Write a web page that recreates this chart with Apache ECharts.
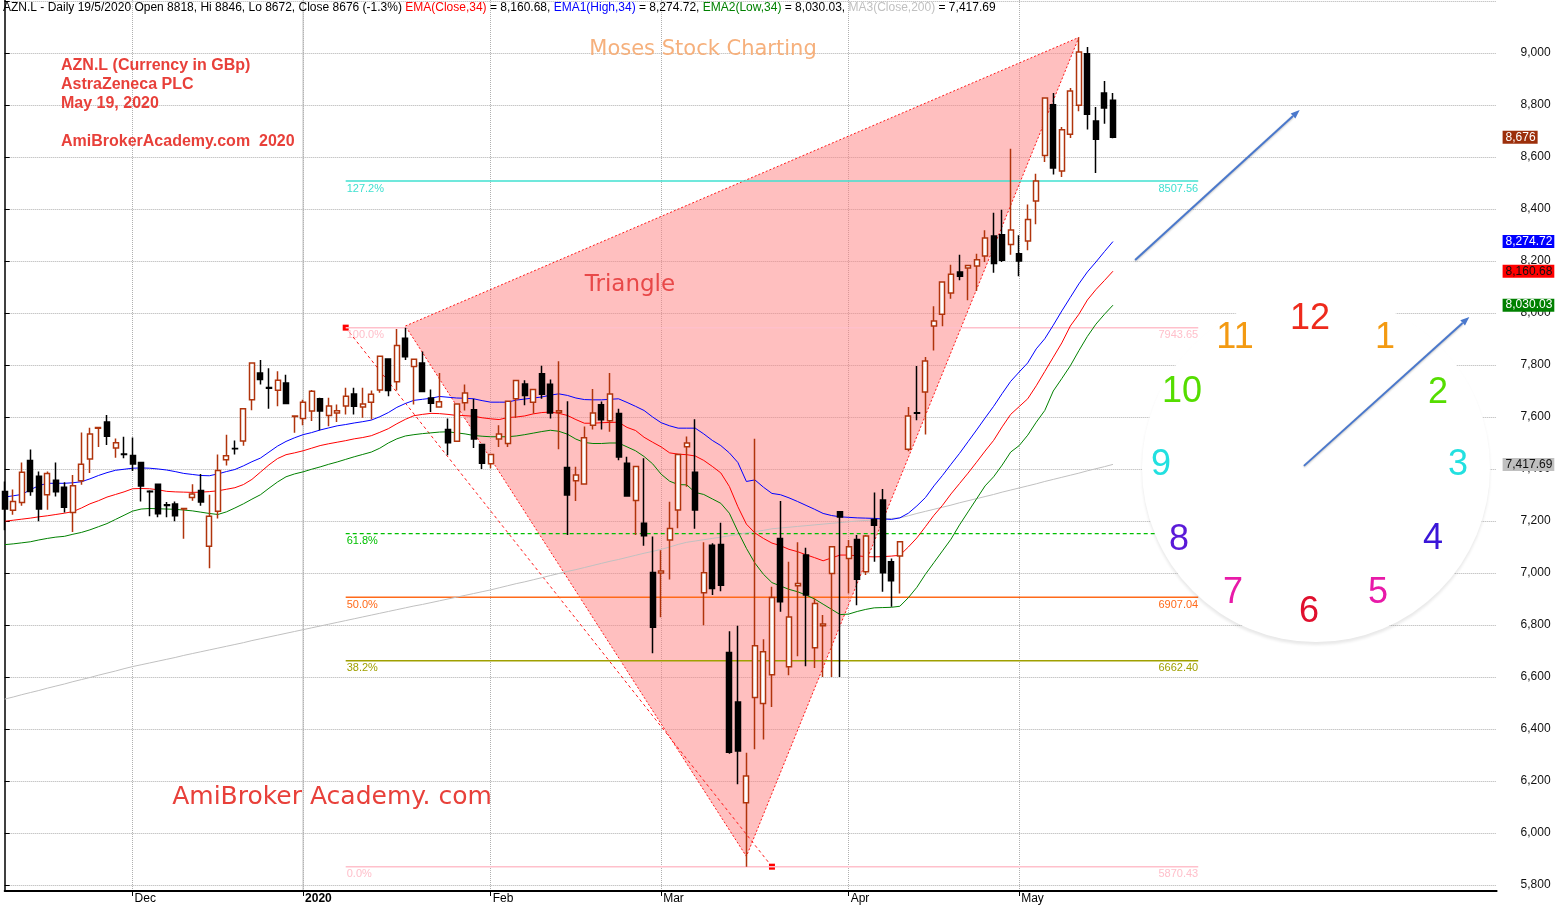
<!DOCTYPE html>
<html><head><meta charset="utf-8">
<script src="https://cdn.jsdelivr.net/npm/echarts@6/dist/echarts.min.js"></script>
<style>html,body{margin:0;padding:0;background:#fff}#c{width:1559px;height:908px}</style>
</head><body><div id="c"></div>
<script>
// ---------------- data ----------------
const dates = [
'2019-11-11','2019-11-12','2019-11-13','2019-11-14','2019-11-15','2019-11-18','2019-11-19','2019-11-20','2019-11-21','2019-11-22','2019-11-25','2019-11-26','2019-11-27','2019-11-28','2019-11-29',
'2019-12-02','2019-12-03','2019-12-04','2019-12-05','2019-12-06','2019-12-09','2019-12-10','2019-12-11','2019-12-12','2019-12-13','2019-12-16','2019-12-17','2019-12-18','2019-12-19','2019-12-20','2019-12-23','2019-12-24','2019-12-27','2019-12-30','2019-12-31',
'2020-01-02','2020-01-03','2020-01-06','2020-01-07','2020-01-08','2020-01-09','2020-01-10','2020-01-13','2020-01-14','2020-01-15','2020-01-16','2020-01-17','2020-01-20','2020-01-21','2020-01-22','2020-01-23','2020-01-24','2020-01-27','2020-01-28','2020-01-29','2020-01-30','2020-01-31',
'2020-02-03','2020-02-04','2020-02-05','2020-02-06','2020-02-07','2020-02-10','2020-02-11','2020-02-12','2020-02-13','2020-02-14','2020-02-17','2020-02-18','2020-02-19','2020-02-20','2020-02-21','2020-02-24','2020-02-25','2020-02-26','2020-02-27','2020-02-28',
'2020-03-02','2020-03-03','2020-03-04','2020-03-05','2020-03-06','2020-03-09','2020-03-10','2020-03-11','2020-03-12','2020-03-13','2020-03-16','2020-03-17','2020-03-18','2020-03-19','2020-03-20','2020-03-23','2020-03-24','2020-03-25','2020-03-26','2020-03-27','2020-03-30','2020-03-31',
'2020-04-01','2020-04-02','2020-04-03','2020-04-06','2020-04-07','2020-04-08','2020-04-09','2020-04-14','2020-04-15','2020-04-16','2020-04-17','2020-04-20','2020-04-21','2020-04-22','2020-04-23','2020-04-24','2020-04-27','2020-04-28','2020-04-29','2020-04-30',
'2020-05-01','2020-05-04','2020-05-05','2020-05-06','2020-05-07','2020-05-11','2020-05-12','2020-05-13','2020-05-14','2020-05-15','2020-05-18','2020-05-19'];

const opens = [7313,7241,7271,7433,7372,7301,7357,7330,7233,7355,
7438,7557,7581,7481,7458,7452,7425,7314,7341,7262,
7265,7246,7290,7317,7103,7237,7436,7479,7508,7666,
7769,7713,7703,7731,7602,7594,7623,7670,7606,7615,
7642,7688,7638,7657,7704,7823,7736,7903,7794,7808,
7673,7638,7552,7507,7655,7628,7494,7420,7515,7498,
7670,7727,7657,7766,7726,7617,7406,7355,7342,7568,
7647,7586,7613,7422,7279,7191,7002,7000,7127,7242,
7486,7387,6924,7107,7110,6694,6504,6116,6521,6498,
6609,7133,6639,6951,7069,6712,6797,6998,7236,7056,
7129,7005,7206,7281,7043,7065,7476,7616,7696,7950,
7995,8077,8158,8173,8181,8219,8296,8301,8263,8228,
8277,8431,8606,8801,8546,8687,8799,8997,8738,8846,
8818];
const closes = [7246,7275,7387,7313,7246,7383,7312,7253,7336,7418,
7535,7560,7526,7501,7456,7419,7335,7312,7228,7260,
7220,7248,7304,7273,7218,7394,7451,7478,7632,7808,
7744,7711,7741,7652,7604,7657,7699,7623,7642,7624,
7680,7641,7650,7687,7834,7702,7875,7832,7822,7698,
7653,7659,7501,7650,7692,7515,7422,7456,7535,7661,
7740,7683,7706,7687,7615,7624,7300,7377,7520,7615,
7589,7688,7446,7296,7410,7143,6791,7008,7171,7456,
7500,7242,7001,6940,6953,6311,6315,6219,6720,6697,
6906,6889,6831,6960,6915,6883,6804,7101,7215,7101,
6976,7142,7184,7001,6970,7120,7604,7614,7815,7969,
8119,8149,8141,8183,8205,8288,8190,8203,8319,8200,
8360,8508,8827,8558,8705,8854,9004,8764,8668,8788,
8676];
const lows = [7164,7224,7259,7297,7199,7243,7294,7233,7158,7339,
7385,7485,7492,7443,7441,7392,7275,7218,7214,7214,
7199,7132,7278,7259,7018,7210,7413,7456,7489,7626,
7725,7632,7641,7650,7539,7568,7585,7549,7564,7581,
7610,7610,7597,7590,7693,7680,7702,7819,7648,7695,
7619,7637,7453,7504,7625,7481,7400,7403,7485,7485,
7596,7645,7613,7670,7594,7476,7146,7277,7340,7552,
7552,7543,7434,7293,7146,7105,6691,6830,6975,7172,
7332,7170,6799,6915,6930,6305,6187,5870.43,6322,6360,
6485,6851,6607,6680,6641,6635,6600,6600,6600,6921,
6876,6992,7043,6928,6870,6921,7468,7587,7533,7856,
7949,8055,8126,8049,8085,8196,8155,8196,8224,8141,
8241,8341,8581,8533,8523,8673,8776,8706,8538,8728,
8672];
const highs = [7352,7321,7425,7475,7390,7390,7425,7349,7377,7540,
7559,7562,7608,7517,7524,7521,7428,7318,7343,7273,
7275,7249,7341,7381,7301,7456,7532,7510,7634,7810,
7819,7787,7776,7762,7605,7666,7704,7674,7674,7648,
7712,7712,7712,7702,7836,7825,7938,7943.65,7824,7852,
7706,7769,7594,7651,7725,7670,7496,7457,7568,7662,
7743,7741,7707,7797,7744,7814,7661,7409,7563,7708,
7660,7769,7632,7447,7411,7441,7140,7087,7274,7457,
7525,7591,7118,7114,7193,6776,6797,6309,7516,6745,
6947,7277,7043,7118,7097,6902,6838,7102,7238,7127,
7146,7146,7310,7323,7056,7121,7638,7796,7831,8026,
8120,8186,8224,8184,8228,8318,8386,8397,8632,8299,
8417,8536,8828,8846,8715,8865,9060,9023,8792,8892,
8846];

const emaHigh = [7292,7297,7302,7320,7336,7345,7345,7345,7347,7351,
7362,7375,7386,7395,7399,7403,7404,7403,7400,7396,
7390,7383,7379,7375,7374,7381,7390,7398,7412,7428,
7442,7465,7488,7506,7520,7532,7540,7550,7558,7566,
7571,7577,7582,7588,7601,7617,7637,7652,7664,7668,
7672,7679,7676,7673,7672,7670,7663,7657,7657,7657,
7665,7669,7673,7677,7684,7689,7683,7673,7667,7666,
7666,7668,7670,7656,7641,7625,7600,7578,7566,7557,
7557,7557,7535,7510,7490,7462,7425,7352,7358,7330,
7306,7301,7289,7275,7260,7245,7229,7221,7216,7214,
7212,7211,7210,7208,7206,7212,7230,7258,7290,7335,
7375,7418,7460,7505,7550,7596,7641,7690,7737,7773,
7808,7862,7901,7953,8008,8060,8112,8158,8196,8236,
8274.72];
const emaClose = [7199,7203,7207,7211,7216,7220,7225,7230,7236,7250,
7266,7278,7292,7302,7312,7324,7325,7324,7320,7314,
7312,7311,7310,7311,7313,7316,7322,7328,7340,7360,
7388,7416,7440,7455,7462,7470,7480,7490,7497,7503,
7509,7516,7521,7528,7541,7555,7574,7591,7605,7610,
7614,7613,7610,7606,7605,7603,7597,7593,7590,7598,
7600,7604,7612,7617,7619,7614,7606,7590,7576,7576,
7578,7579,7580,7560,7548,7522,7503,7485,7462,7457,
7455,7450,7433,7410,7385,7333,7255,7188,7154,7133,
7115,7105,7091,7082,7070,7059,7047,7058,7069,7069,
7066,7063,7062,7063,7065,7068,7100,7135,7178,7222,
7260,7304,7344,7384,7426,7469,7510,7562,7610,7640,
7670,7720,7775,7830,7885,7950,7995,8050,8090,8125,
8160.68];
const emaLow = [7109,7112,7116,7120,7127,7133,7138,7141,7149,7156,
7166,7178,7190,7206,7222,7238,7246,7248,7247,7246,
7245,7242,7239,7234,7229,7225,7235,7250,7266,7284,
7301,7326,7350,7370,7381,7389,7399,7408,7418,7427,
7437,7447,7456,7465,7480,7500,7516,7527,7532,7536,
7539,7542,7543,7539,7535,7529,7526,7524,7524,7524,
7527,7532,7538,7544,7549,7545,7534,7515,7502,7498,
7498,7500,7500,7485,7470,7448,7420,7380,7353,7340,
7339,7310,7302,7285,7268,7230,7160,7095,7038,6995,
6963,6950,6937,6928,6915,6900,6880,6860,6840,6842,
6852,6860,6866,6867,6868,6872,6905,6945,6995,7040,
7085,7130,7185,7235,7285,7335,7370,7415,7465,7490,
7530,7580,7625,7700,7748,7797,7855,7910,7957,7995,
8030.03];
const ma200 = [6515,6523,6532,6540,6548,6557,6565,6573,6582,6590,
6598,6607,6615,6623,6632,6640,6647,6654,6661,6668,
6675,6683,6690,6697,6704,6711,6718,6725,6732,6740,
6747,6754,6761,6768,6775,6782,6789,6796,6803,6810,
6817,6824,6831,6838,6845,6852,6859,6866,6873,6879,
6886,6893,6900,6907,6914,6921,6928,6935,6943,6951,
6959,6966,6974,6982,6990,6998,7006,7013,7021,7029,
7037,7045,7052,7060,7068,7076,7083,7091,7100,7110,
7118,7123,7128,7133,7138,7143,7148,7154,7159,7164,
7170,7173,7176,7179,7182,7185,7188,7191,7194,7197,
7200,7202,7205,7207,7210,7212,7220,7229,7237,7245,
7253,7261,7270,7278,7286,7294,7302,7311,7319,7327,
7335,7343,7352,7360,7368,7376,7384,7393,7401,7409,
7417.69];

const futureSlots = 45;                     // empty bars to the right of the last candle
const fibLevels = [8507.56, 7943.65, 7151.68, 6907.04, 6662.40, 5870.43];
const fibLabels = ['127.2%', '100.0%', '61.8%', '50.0%', '38.2%', '0.0%'];
const fibSpan = [40, 140];                   // bar index range of the fib tool
const fibAnchor = [[40, 7943.65], [90, 5870.43]];
const triangle = [[47, 7950], [126, 9060], [87, 5910]];
const arrows = [[132.6, 8204, 151.9, 8781], [152.4, 7412, 171.8, 7985]];
const yearStartBar = 35;

// ---------------- styles ----------------
const FF = '"Liberation Sans", Arial, Helvetica, sans-serif';
const fibColors = ['#40e0d0', '#ffc0cb', '#00c000', '#ff6a1a', '#a0a000', '#ffc0cb'];
const fibWidths = [1.5, 1.5, 1.2, 1.5, 1.5, 1.5];
const fibDash = [null, null, [4, 3], null, null, null];

const n = dates.length;
const N = n + futureSlots;
const cats = dates.concat(Array.from({length: futureSlots}, (_, k) => 'slot' + k));
const monthStart = new Set();
dates.forEach((d, i) => { if (i > 0 && d.slice(5, 7) !== dates[i - 1].slice(5, 7)) monthStart.add(i); });
const monNames = ['Jan','Feb','Mar','Apr','May','Jun','Jul','Aug','Sep','Oct','Nov','Dec'];
const isTick = (i) => monthStart.has(i);
const fmt2 = v => v.toLocaleString('en-US', {minimumFractionDigits: 2, maximumFractionDigits: 2});
const fmt0 = v => v.toLocaleString('en-US');

const last = n - 1;
const pct = ((closes[last] - closes[last - 1]) / closes[last - 1] * 100).toFixed(1);
const ld = dates[last].split('-');
const headerText =
  `{k|AZN.L - Daily ${+ld[2]}/${+ld[1]}/${ld[0]} Open ${opens[last]}, Hi ${highs[last]}, Lo ${lows[last]}, Close ${closes[last]} (${pct}%) }` +
  `{r|EMA(Close,34)}{k| = ${fmt2(emaClose[last])}, }{b|EMA1(High,34)}{k| = ${fmt2(emaHigh[last])}, }` +
  `{g|EMA2(Low,34)}{k| = ${fmt2(emaLow[last])}, }{m|MA3(Close,200)}{k| = ${fmt2(ma200[last])}}`;

function badge(value, bg, fg, text) {
  return {
    symbol: 'none', silent: true, animation: false,
    lineStyle: {color: 'rgba(0,0,0,0)', width: 0},
    label: {show: true, position: 'end', distance: 6, formatter: text,
      backgroundColor: bg, color: fg, fontFamily: FF, fontSize: 12, padding: [1, 2, 0, 3]},
    data: [{yAxis: value}]
  };
}

const clockNums = [
  ['12', 1310, 319, '#ee2a1c'], ['1', 1385, 338, '#f39a12'], ['2', 1438, 393, '#55dd00'],
  ['3', 1458, 465, '#22e0e0'], ['4', 1433, 539, '#3a16d8'], ['5', 1378, 593, '#e81aa8'],
  ['6', 1309, 612, '#e0102e'], ['7', 1233, 593, '#e81aa8'], ['8', 1179, 540, '#5a1ad8'],
  ['9', 1161, 465, '#22e0e0'], ['10', 1182, 392, '#55dd00'], ['11', 1235, 338, '#f39a12']
];

function txt(x, y, text, fill, font, align, valign, z) {
  return {type: 'text', x, y, z: z || 40, silent: true,
    style: {text, fill, font, align: align || 'left', verticalAlign: valign || 'middle',
      textAlign: align || 'left', textVerticalAlign: valign || 'middle'}};
}

const option = {
  animation: false,
  backgroundColor: '#ffffff',
  grid: {left: 4.7, right: 62.4, top: 0, bottom: 17, containLabel: false},
  xAxis: [{
    type: 'category', data: cats, boundaryGap: false,
    axisLine: {show: true, lineStyle: {color: '#000', width: 2}},
    axisTick: {show: true, interval: (i) => isTick(i), length: 5, lineStyle: {color: '#000'}},
    axisLabel: {interval: (i) => isTick(i), align: 'left', margin: 2, padding: [0, 0, 0, 2],
      color: '#000', fontFamily: FF, fontSize: 12,
      formatter: (v) => {
        if (v.startsWith('slot')) return '';
        const m = +v.slice(5, 7);
        return m === 1 ? '{y|' + v.slice(0, 4) + '}' : monNames[m - 1];
      },
      rich: {y: {fontWeight: 'bold', fontFamily: FF, fontSize: 12, color: '#000'}}},
    splitLine: {show: true, interval: (i) => isTick(i), lineStyle: {color: '#b0b0b0', type: 'dotted', width: 1}}
  }, {
    type: 'value', min: 0, max: N - 1, show: false
  }],
  yAxis: [{
    type: 'value', position: 'right', min: 5776.9, max: 9203.8,
    minInterval: 200, maxInterval: 200, splitNumber: 17,
    axisLine: {show: true, lineStyle: {color: '#000', width: 1.5}},
    axisTick: {show: true, length: 5, lineStyle: {color: '#000'}},
    axisLabel: {margin: 24, color: '#111', fontFamily: FF, fontSize: 12,
      showMinLabel: false, showMaxLabel: false,
      formatter: (v) => (Math.abs(v % 200) < 1e-6 && v < 9100) ? fmt0(v) : ''},
    splitLine: {show: true, showMinLine: false, showMaxLine: false,
      lineStyle: {color: '#b0b0b0', type: 'dotted', width: 1}}
  }],
  series: [
    { // year boundary solid gridline
      type: 'custom', xAxisIndex: 1, yAxisIndex: 0, z: 0, silent: true,
      data: [[yearStartBar, 7000]],
      renderItem: (params, api) => {
        const p = api.coord([api.value(0), api.value(1)]);
        const cs = params.coordSys;
        return {type: 'line', shape: {x1: p[0], y1: cs.y, x2: p[0], y2: cs.y + cs.height},
          style: {stroke: '#b8b8b8', lineWidth: 1}};
      }
    },
    { // triangle pattern
      type: 'custom', xAxisIndex: 1, yAxisIndex: 0, z: 1, silent: true,
      data: [[triangle[0][0], triangle[0][1]]],
      renderItem: (params, api) => {
        const pts = triangle.map(p => api.coord(p));
        return {type: 'polygon', shape: {points: pts},
          style: {fill: 'rgba(255,128,128,0.5)', stroke: '#ff1a1a', lineWidth: 1, lineDash: [2, 2]}};
      }
    },
    { // fib anchor line + markers
      type: 'custom', xAxisIndex: 1, yAxisIndex: 0, z: 2, silent: true,
      data: [[fibAnchor[0][0], fibAnchor[0][1], fibAnchor[1][0], fibAnchor[1][1]]],
      renderItem: (params, api) => {
        const a = api.coord([api.value(0), api.value(1)]);
        const b = api.coord([api.value(2), api.value(3)]);
        return {type: 'group', children: [
          {type: 'line', shape: {x1: a[0], y1: a[1], x2: b[0], y2: b[1]},
            style: {stroke: '#ff1a1a', lineWidth: 1, lineDash: [3, 3]}},
          {type: 'rect', shape: {x: a[0] - 3, y: a[1] - 3, width: 6, height: 6}, style: {fill: '#ff0000'}},
          {type: 'rect', shape: {x: b[0] - 3, y: b[1] - 3, width: 6, height: 6}, style: {fill: '#ff0000'}}
        ]};
      }
    },
    { // fib levels
      type: 'custom', xAxisIndex: 1, yAxisIndex: 0, z: 2, silent: true,
      data: fibLevels.map(v => [fibSpan[0], v, fibSpan[1]]),
      renderItem: (params, api) => {
        const k = params.dataIndex;
        const a = api.coord([api.value(0), api.value(1)]);
        const b = api.coord([api.value(2), api.value(1)]);
        const font = '11px ' + FF;
        return {type: 'group', children: [
          {type: 'line', shape: {x1: a[0], y1: a[1], x2: b[0], y2: b[1]},
            style: {stroke: fibColors[k], lineWidth: fibWidths[k], lineDash: fibDash[k]}},
          {type: 'text', x: a[0] + 1, y: a[1] + 2, style: {text: fibLabels[k], fill: fibColors[k], font,
            align: 'left', verticalAlign: 'top', textAlign: 'left', textVerticalAlign: 'top'}},
          {type: 'text', x: b[0], y: b[1] + 2, style: {text: fibLevels[k].toFixed(2), fill: fibColors[k], font,
            align: 'right', verticalAlign: 'top', textAlign: 'right', textVerticalAlign: 'top'}}
        ]};
      }
    },
    {
      name: 'MA200', type: 'line', xAxisIndex: 0, yAxisIndex: 0, z: 3, data: ma200,
      showSymbol: false, symbol: 'none', lineStyle: {color: '#c0c0c0', width: 1}, silent: true,
      markLine: badge(ma200[last], '#c0c0c0', '#111', () => fmt2(ma200[last]))
    },
    {
      name: 'EMA Low', type: 'line', xAxisIndex: 0, yAxisIndex: 0, z: 3, data: emaLow,
      showSymbol: false, symbol: 'none', lineStyle: {color: '#008000', width: 1}, silent: true,
      markLine: badge(emaLow[last], '#008000', '#fff', () => fmt2(emaLow[last]))
    },
    {
      name: 'EMA Close', type: 'line', xAxisIndex: 0, yAxisIndex: 0, z: 3, data: emaClose,
      showSymbol: false, symbol: 'none', lineStyle: {color: '#ff0000', width: 1}, silent: true,
      markLine: badge(emaClose[last], '#ff0000', '#111', () => fmt2(emaClose[last]))
    },
    {
      name: 'EMA High', type: 'line', xAxisIndex: 0, yAxisIndex: 0, z: 3, data: emaHigh,
      showSymbol: false, symbol: 'none', lineStyle: {color: '#0000ff', width: 1}, silent: true,
      markLine: badge(emaHigh[last], '#0000ff', '#fff', () => fmt2(emaHigh[last]))
    },
    {
      name: 'AZN.L', type: 'candlestick', xAxisIndex: 0, yAxisIndex: 0, z: 4, clip: false,
      barWidth: 5.5, silent: true,
      data: dates.map((d, i) => [opens[i], closes[i], lows[i], highs[i]]),
      itemStyle: {color: '#ffffff', color0: '#000000', borderColor: '#b0340c', borderColor0: '#000000',
        borderColorDoji: '#000000', borderWidth: 1.5},
      markLine: badge(closes[last], '#9c2f0b', '#fff', () => fmt0(closes[last]))
    },
    { // arrows
      type: 'custom', xAxisIndex: 1, yAxisIndex: 0, z: 30, silent: true,
      data: arrows,
      renderItem: (params, api) => {
        const a = api.coord([api.value(0), api.value(1)]);
        const b = api.coord([api.value(2), api.value(3)]);
        const ang = Math.atan2(b[1] - a[1], b[0] - a[0]);
        const L = 9, W = 3.5;
        const bx = b[0] - L * Math.cos(ang), by = b[1] - L * Math.sin(ang);
        const px = -Math.sin(ang) * W, py = Math.cos(ang) * W;
        return {type: 'group', children: [
          {type: 'line', shape: {x1: a[0], y1: a[1], x2: bx, y2: by},
            style: {stroke: '#4a78cc', lineWidth: 2, shadowBlur: 2, shadowColor: 'rgba(0,0,0,0.25)', shadowOffsetY: 1}},
          {type: 'polygon', shape: {points: [[b[0], b[1]], [bx + px, by + py], [bx - px, by - py]]},
            style: {fill: '#4a78cc'}}
        ]};
      }
    }
  ],
  graphic: [
    {type: 'circle', shape: {cx: 1316, cy: 468, r: 174}, z: 20, silent: true,
      style: {fill: '#ffffff', shadowBlur: 3, shadowOffsetY: 3, shadowColor: 'rgba(0,0,0,0.09)'}},
    ...clockNums.map(c => txt(c[1], c[2], c[0], c[3], '36px ' + FF, 'center', 'middle', 21)),
    {type: 'text', x: 3, y: 8, z: 40, silent: true,
      style: {text: headerText, align: 'left', verticalAlign: 'middle', textAlign: 'left', textVerticalAlign: 'middle',
        rich: {
          k: {fill: '#000', color: '#000', fontFamily: FF, fontSize: 12},
          r: {fill: '#ff0000', color: '#ff0000', fontFamily: FF, fontSize: 12},
          b: {fill: '#0000ff', color: '#0000ff', fontFamily: FF, fontSize: 12},
          g: {fill: '#008000', color: '#008000', fontFamily: FF, fontSize: 12},
          m: {fill: '#c0c0c0', color: '#c0c0c0', fontFamily: FF, fontSize: 12}
        }}},
    {type: 'text', x: 61, y: 56, z: 40, silent: true,
      style: {text: 'AZN.L (Currency in GBp)\nAstraZeneca PLC\nMay 19, 2020\n\nAmiBrokerAcademy.com  2020',
        fill: '#e8403a', font: 'bold 16px ' + FF, lineHeight: 19,
        align: 'left', verticalAlign: 'top', textAlign: 'left', textVerticalAlign: 'top'}},
    txt(703, 50, 'Moses Stock Charting', '#f6b07c', '21px "DejaVu Sans", sans-serif', 'center', 'middle'),
    txt(630, 285, 'Triangle', '#e84848', '23px "DejaVu Sans", sans-serif', 'center', 'middle'),
    txt(332, 797, 'AmiBroker Academy. com', '#e8403a', '25px "DejaVu Sans", sans-serif', 'center', 'middle')
  ]
};

const chart = echarts.init(document.getElementById('c'), null, {renderer: 'canvas', width: 1559, height: 908});
chart.setOption(option);
</script>
</body></html>
